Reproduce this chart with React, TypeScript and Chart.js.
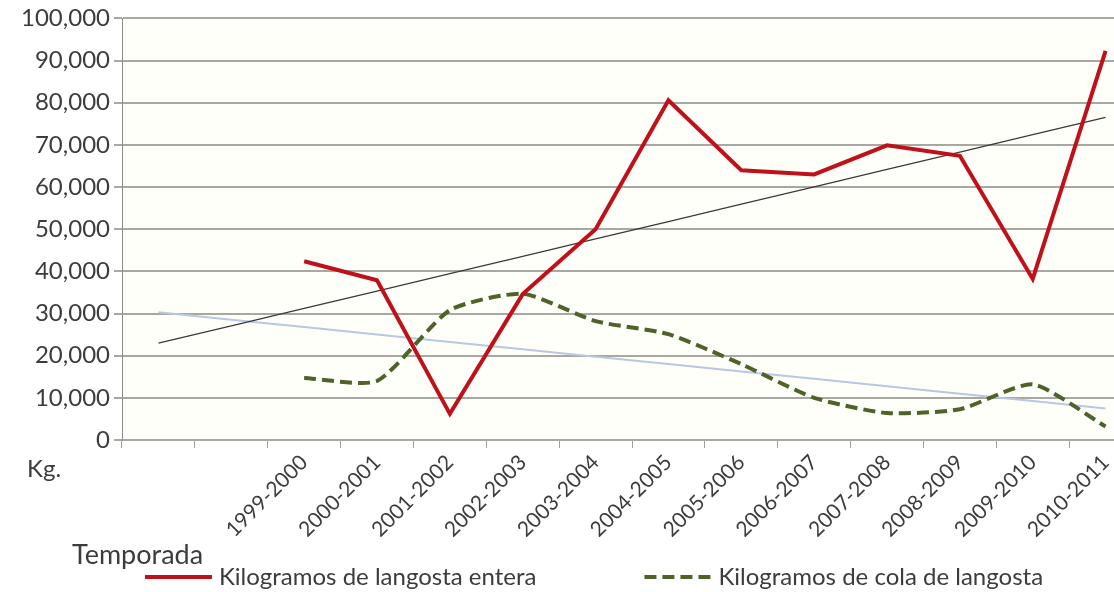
import React, { useEffect, useRef } from "react";
import { Chart, registerables } from "chart.js";

Chart.register(...registerables);

// ---- Data ----
const seasons: string[] = [
  "", "",
  "1999-2000", "2000-2001", "2001-2002", "2002-2003", "2003-2004", "2004-2005",
  "2005-2006", "2006-2007", "2007-2008", "2008-2009", "2009-2010", "2010-2011",
];
const langostaEntera: (number | null)[] = [
  null, null, 42400, 37900, 6200, 34600, 50000, 80600, 64000, 63000, 69900, 67400, 38200, 92300,
];
const colaLangosta: (number | null)[] = [
  null, null, 14700, 14000, 30800, 34700, 28200, 25100, 18000, 10000, 6400, 7300, 13200, 3200,
];
const yTickValues: number[] = [0, 10000, 20000, 30000, 40000, 50000, 60000, 70000, 80000, 90000, 100000];
const seriesLabels: string[] = ["Kilogramos de langosta entera", "Kilogramos de cola de langosta"];
const yAxisTitle = "Kg.";
const xAxisTitle = "Temporada";

// Linear (least squares) trend over the category index, extended over every category
function linearTrend(values: (number | null)[]): number[] {
  const pts: [number, number][] = [];
  values.forEach((v, i) => { if (v !== null) pts.push([i, v]); });
  const n = pts.length;
  const mx = pts.reduce((s, p) => s + p[0], 0) / n;
  const my = pts.reduce((s, p) => s + p[1], 0) / n;
  let sxy = 0, sxx = 0;
  for (const [x, y] of pts) { sxy += (x - mx) * (y - my); sxx += (x - mx) * (x - mx); }
  const b = sxy / sxx;
  const a = my - b * mx;
  return values.map((_, i) => a + b * i);
}

const FONT = "Lato, 'Open Sans', sans-serif";
const TEXT_COLOR = "#3c3c3c";

const plotBackground = {
  id: "plotBackground",
  beforeDraw(chart: any) {
    const { ctx, chartArea } = chart;
    ctx.save();
    ctx.fillStyle = "#fffffa";
    ctx.fillRect(chartArea.left, chartArea.top, chartArea.right - chartArea.left, chartArea.bottom - chartArea.top);
    ctx.restore();
  },
};

const extraText = {
  id: "extraText",
  afterDraw(chart: any) {
    const { ctx } = chart;
    ctx.save();
    ctx.fillStyle = TEXT_COLOR;
    ctx.textBaseline = "middle";
    ctx.textAlign = "left";
    ctx.font = `24px ${FONT}`;
    ctx.fillText(yAxisTitle, 27, 469);
    ctx.font = `27px ${FONT}`;
    ctx.fillText(xAxisTitle, 72, 555);

    // legend
    const items = chart.data.datasets.slice(0, 2);
    const sampleW = 67;
    const gap = 7;
    const itemGap = 108;
    ctx.font = `24px ${FONT}`;
    const widths = items.map((d: any) => ctx.measureText(d.label).width);
    const total = items.length * (sampleW + gap) + widths.reduce((a: number, b: number) => a + b, 0) + itemGap * (items.length - 1);
    let x = 594 - total / 2;
    const y = 577;
    items.forEach((d: any, i: number) => {
      ctx.save();
      ctx.strokeStyle = d.borderColor;
      ctx.lineWidth = d.borderWidth;
      ctx.setLineDash(d.borderDash || []);
      ctx.beginPath();
      ctx.moveTo(x, y);
      ctx.lineTo(x + sampleW, y);
      ctx.stroke();
      ctx.restore();
      ctx.fillStyle = TEXT_COLOR;
      ctx.fillText(d.label, x + sampleW + gap, y);
      x += sampleW + gap + widths[i] + itemGap;
    });
    ctx.restore();
  },
};

export default function App() {
  const canvasRef = useRef<HTMLCanvasElement | null>(null);

  useEffect(() => {
    let chart: Chart | null = null;
    let cancelled = false;
    const create = () => {
      if (cancelled || !canvasRef.current) return;
      chart = new Chart(canvasRef.current, {
        type: "line",
        data: {
          labels: seasons,
          datasets: [
            {
              label: seriesLabels[0],
              data: langostaEntera,
              borderColor: "#c0101a",
              backgroundColor: "#c0101a",
              borderWidth: 4,
              pointRadius: 0,
              tension: 0,
              order: 0,
            },
            {
              label: seriesLabels[1],
              data: colaLangosta,
              borderColor: "#4f6228",
              backgroundColor: "#4f6228",
              borderWidth: 4,
              borderDash: [12, 6],
              pointRadius: 0,
              tension: 0.2,
              order: 1,
            },
            {
              label: "Lineal (" + seriesLabels[0] + ")",
              data: linearTrend(langostaEntera),
              borderColor: "#3a3a3a",
              borderWidth: 1.3,
              pointRadius: 0,
              order: 2,
            },
            {
              label: "Lineal (" + seriesLabels[1] + ")",
              data: linearTrend(colaLangosta),
              borderColor: "#b8c8e2",
              borderWidth: 2,
              pointRadius: 0,
              order: 3,
            },
          ],
        },
        options: {
          animation: false,
          responsive: false,
          devicePixelRatio: 1,
          layout: { padding: { top: 18, right: 0, bottom: 0, left: 0 } },
          plugins: {
            legend: { display: false },
            tooltip: { enabled: false },
          },
          scales: {
            x: {
              offset: true,
              grid: {
                offset: true,
                drawOnChartArea: false,
                drawTicks: true,
                tickLength: 8,
                color: "#a0a0a0",
                lineWidth: 1,
              },
              border: { display: true, color: "#a9a9a4", width: 2 },
              ticks: {
                autoSkip: false,
                maxRotation: 45,
                minRotation: 45,
                padding: 2,
                color: TEXT_COLOR,
                font: { family: FONT, size: 21 },
              },
              afterFit: (scale: any) => { scale.height = 152; },
            },
            y: {
              min: 0,
              max: 100000,
              afterBuildTicks: (scale: any) => { scale.ticks = yTickValues.map((v) => ({ value: v })); },
              ticks: {
                padding: 4,
                color: TEXT_COLOR,
                font: { family: FONT, size: 24 },
                callback: (v: any) => Number(v).toLocaleString("en-US"),
              },
              grid: { color: "#a8a8a2", lineWidth: 2, tickLength: 8 },
              border: { display: true, color: "#8c8c8c", width: 1 },
              afterFit: (scale: any) => { scale.width = 122; },
            },
          },
        },
        plugins: [plotBackground, extraText],
      });
    };
    const fontsReady = (document as any).fonts?.load
      ? Promise.all([
          (document as any).fonts.load(`24px Lato`),
          (document as any).fonts.load(`21px Lato`),
        ]).catch(() => null)
      : Promise.resolve(null);
    fontsReady.then(create);
    return () => {
      cancelled = true;
      if (chart) chart.destroy();
    };
  }, []);

  return (
    <div style={{ position: "fixed", left: 0, top: 0, width: 1114, height: 592, overflow: "hidden", background: "#ffffff" }}>
      <canvas ref={canvasRef} width={1142} height={592} style={{ display: "block", width: 1142, height: 592 }} />
    </div>
  );
}
